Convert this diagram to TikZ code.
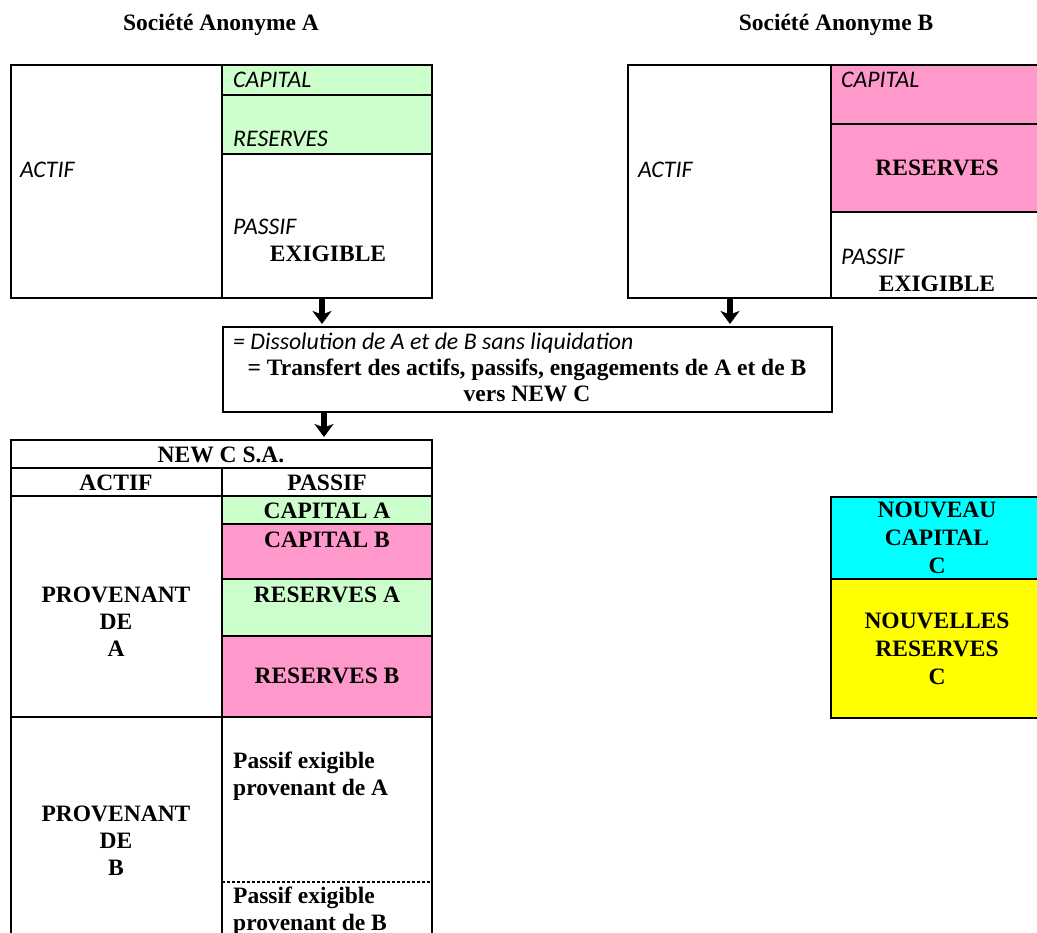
\documentclass[tikz,border=0pt]{standalone}
\usepackage{fontspec}
\setmainfont{Liberation Serif}
\newfontfamily\calfont{Carlito}
\usetikzlibrary{arrows.meta}

\definecolor{vertA}{HTML}{CCFFCC}
\definecolor{roseB}{HTML}{FF99CC}
\definecolor{cyanC}{HTML}{00FFFF}
\definecolor{jauneC}{HTML}{FFFF00}

\tikzset{
  box/.style={draw=black, line width=2.6pt, anchor=north west, inner sep=0pt, outer sep=0pt},
  rule/.style={draw=black, line width=2.6pt},
  dashrule/.style={draw=black, line width=1.4pt, dash pattern=on 3pt off 2pt},
  lab/.style={inner sep=0pt, anchor=base west, font=\fontsize{23.8}{27}\selectfont\calfont\itshape},
  bold/.style={inner sep=0pt, anchor=base, font=\fontsize{23.5}{27}\selectfont\bfseries},
  boldl/.style={bold, anchor=base west},
  bigarrow/.style={line width=5.5pt, -{Stealth[length=13pt,width=19pt,inset=3.5pt]}, shorten >=3pt},
}

\begin{document}
\begin{tikzpicture}[x=1pt, y=-1pt]
\useasboundingbox (0,0) rectangle (1037,933);
\clip (0,0) rectangle (1037,933);

% ---- titles
\node[bold] (tA) at (221,31) {Société Anonyme A};
\node[bold] (tB) at (836,31) {Société Anonyme B};

% ---- balance sheet of A
\fill[vertA] (222,65) rectangle (432,154);
\node[box, minimum width=421pt, minimum height=233pt] (boxA) at (11,65) {};
\draw[rule] (222,65) -- (222,298);
\draw[rule] (222,95) -- (432,95);
\draw[rule] (222,154) -- (432,154);
\node[lab] (aActif) at (20,178) {ACTIF};
\node[lab] (aCap) at (233,88) {CAPITAL};
\node[lab] (aRes) at (233,147) {RESERVES};
\node[lab] (aPass) at (233,235) {PASSIF};
\node[bold] (aExig) at (328,262) {EXIGIBLE};

% ---- balance sheet of B
\fill[roseB] (831,65) rectangle (1045,212);
\node[box, minimum width=417pt, minimum height=233pt] (boxB) at (628,65) {};
\draw[rule] (831,65) -- (831,298);
\draw[rule] (831,124) -- (1045,124);
\draw[rule] (831,212) -- (1045,212);
\node[lab] (bCap) at (841,88) {CAPITAL};
\node[lab] (bActif) at (638,178) {ACTIF};
\node[bold] (bRes) at (937,176) {RESERVES};
\node[lab] (bPass) at (841,265) {PASSIF};
\node[bold] (bExig) at (937,292) {EXIGIBLE};

% ---- merger operation
\node[box, minimum width=609pt, minimum height=85pt] (mid) at (223,327) {};
\node[lab] (m1) at (233,350) {= Dissolution de A et de B sans liquidation};
\node[bold] (m2) at (527,376) {= Transfert des actifs, passifs, engagements de A et de B};
\node[bold] (m3) at (527,402) {vers NEW C};

% ---- balance sheet of NEW C
\fill[vertA] (222,496) rectangle (432,524);
\fill[roseB] (222,524) rectangle (432,579);
\fill[vertA] (222,579) rectangle (432,636);
\fill[roseB] (222,636) rectangle (432,717);
\node[box, minimum width=421pt, minimum height=520pt] (tbl) at (11,440) {};
\draw[rule] (11,468) -- (432,468);
\draw[rule] (11,496) -- (432,496);
\draw[rule] (222,468) -- (222,960);
\draw[rule] (222,524) -- (432,524);
\draw[rule] (222,579) -- (432,579);
\draw[rule] (222,636) -- (432,636);
\draw[rule] (11,717) -- (432,717);
\draw[dashrule] (222,882) -- (432,882);

\node[bold] (cTitle) at (221,462) {NEW C S.A.};
\node[bold] (cActif) at (116,490) {ACTIF};
\node[bold] (cPassif) at (327,490) {PASSIF};
\node[bold] (pa1) at (116,602) {PROVENANT};
\node[bold] (pa2) at (116,629) {DE};
\node[bold] (pa3) at (116,656) {A};
\node[bold] (capA) at (327,518) {CAPITAL A};
\node[bold] (capB) at (327,547) {CAPITAL B};
\node[bold] (resA) at (327,602) {RESERVES A};
\node[bold] (resB) at (327,683) {RESERVES B};
\node[bold] (pb1) at (116,821) {PROVENANT};
\node[bold] (pb2) at (116,848) {DE};
\node[bold] (pb3) at (116,875) {B};
\node[boldl] (pe1a) at (233,768) {Passif exigible};
\node[boldl] (pe1b) at (233,795) {provenant de A};
\node[boldl] (pe2a) at (233,903) {Passif exigible};
\node[boldl] (pe2b) at (233,930) {provenant de B};

% ---- new capital and reserves of C
\fill[cyanC] (831,497) rectangle (1045,579);
\fill[jauneC] (831,579) rectangle (1045,718);
\node[box, minimum width=214pt, minimum height=221pt] (newC) at (831,497) {};
\draw[rule] (831,579) -- (1045,579);
\node[bold] (nc1) at (937,517) {NOUVEAU};
\node[bold] (nc2) at (937,545) {CAPITAL};
\node[bold] (nc3) at (937,573) {C};
\node[bold] (nr1) at (937,628) {NOUVELLES};
\node[bold] (nr2) at (937,656) {RESERVES};
\node[bold] (nr3) at (937,684) {C};

% ---- arrows
\coordinate (xA) at (322,0);
\coordinate (xB) at (730,0);
\coordinate (xC) at (324,0);
\draw[bigarrow] (boxA.south -| xA) -- (mid.north -| xA);
\draw[bigarrow] (boxB.south -| xB) -- (mid.north -| xB);
\draw[bigarrow] (mid.south -| xC) -- (tbl.north -| xC);
\end{tikzpicture}
\end{document}
